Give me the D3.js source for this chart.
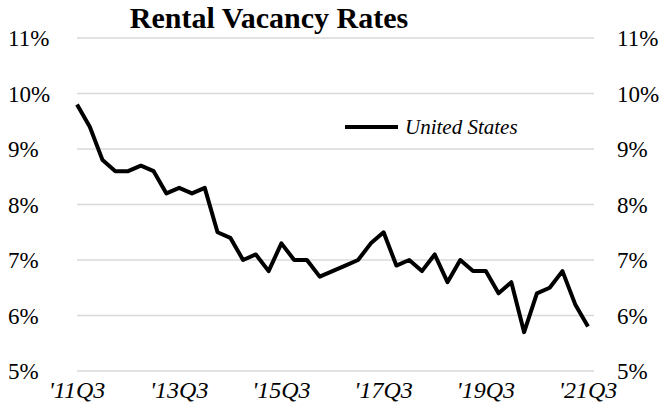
<!DOCTYPE html>
<html>
<head>
<meta charset="utf-8">
<script src="https://cdn.jsdelivr.net/npm/d3@7"></script>
<style>
body { margin: 0; background: #fff; }
text { font-family: "Liberation Serif", "DejaVu Serif", serif; fill: #000; }
</style>
</head>
<body>
<div id="canvas"></div>
<script>
var width = 664;
var height = 416;

// quarterly rental vacancy rate, 2011Q3 .. 2021Q3
var quarters = [];
for (var yr = 2011; yr <= 2021; yr++) {
	for (var q = 1; q <= 4; q++) {
		if ((yr == 2011 && q < 3) || (yr == 2021 && q > 3)) continue;
		quarters.push("'" + String(yr).slice(2) + "Q" + q);
	}
}
var rates = [9.8, 9.4, 8.8, 8.6, 8.6, 8.7, 8.6, 8.2, 8.3, 8.2,
	8.3, 7.5, 7.4, 7.0, 7.1, 6.8, 7.3, 7.0, 7.0, 6.7,
	6.8, 6.9, 7.0, 7.3, 7.5, 6.9, 7.0, 6.8, 7.1, 6.6,
	7.0, 6.8, 6.8, 6.4, 6.6, 5.7, 6.4, 6.5, 6.8, 6.2, 5.8];
var xTicks = ["'11Q3", "'13Q3", "'15Q3", "'17Q3", "'19Q3", "'21Q3"];
var yTicks = [5, 6, 7, 8, 9, 10, 11];
var seriesName = "United States";

var svg = d3.select("#canvas").append("svg")
	.attr("width", width)
	.attr("height", height);

var x = d3.scalePoint().domain(quarters).range([77, 588]);
var y = d3.scaleLinear().domain([5, 11]).range([371, 38]);

// grid
svg.selectAll('line.grid')
	.data(yTicks)
	.enter()
	.append('line')
	.attr('class', 'grid')
	.attr('x1', 77).attr('x2', 594)
	.attr('y1', function(d){return y(d);})
	.attr('y2', function(d){return y(d);})
	.style('stroke', '#d9d9d9')
	.style('stroke-width', 1.5);

// y labels both sides
var fmt = function(d){return d + "%";};
svg.append('g').selectAll('text')
	.data(yTicks)
	.enter()
	.append('text')
	.attr('x', 8)
	.attr('y', function(d){return y(d);})
	.attr('dy', '0.35em')
	.style('font-size', '23px')
	.text(fmt);
svg.append('g').selectAll('text')
	.data(yTicks)
	.enter()
	.append('text')
	.attr('x', 617)
	.attr('y', function(d){return y(d);})
	.attr('dy', '0.35em')
	.style('font-size', '23px')
	.text(fmt);

// x labels
svg.append('g').selectAll('text')
	.data(xTicks)
	.enter()
	.append('text')
	.attr('x', function(d){return x(d);})
	.attr('y', 398)
	.attr('text-anchor', 'middle')
	.style('font-size', '24px')
	.style('font-style', 'italic')
	.text(function(d){return d;});

// series
var line = d3.line()
	.x(function(d, i){return x(quarters[i]);})
	.y(function(d){return y(d);});
svg.append('path')
	.datum(rates)
	.attr('d', line)
	.style('fill', 'none')
	.style('stroke', '#000')
	.style('stroke-width', 4)
	.style('stroke-linejoin', 'round');

// legend
svg.append('line')
	.attr('x1', 345).attr('x2', 398)
	.attr('y1', 127).attr('y2', 127)
	.style('stroke', '#000')
	.style('stroke-width', 4);
svg.append('text')
	.attr('x', 405).attr('y', 134)
	.style('font-size', '21px')
	.style('font-style', 'italic')
	.text(seriesName);

// title
svg.append('text')
	.attr('x', 269).attr('y', 28)
	.attr('text-anchor', 'middle')
	.style('font-size', '30px')
	.style('font-weight', 'bold')
	.text("Rental Vacancy Rates");
</script>
</body>
</html>
